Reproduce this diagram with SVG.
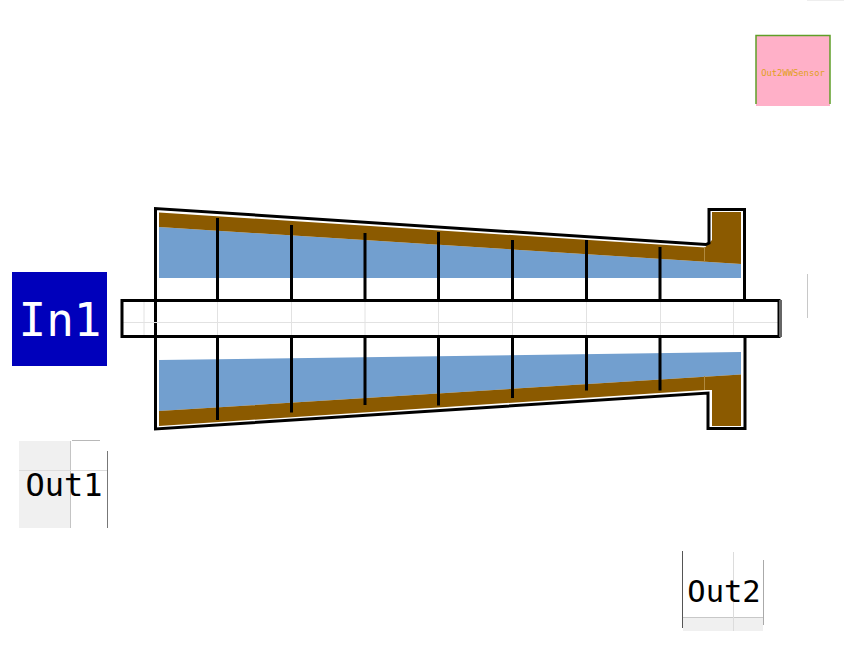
<svg xmlns="http://www.w3.org/2000/svg" width="844" height="645" viewBox="0 0 844 645">
<style>
.brown{fill:#8b5a00}
.blue{fill:#729fcf}
.out{fill:none;stroke:#000;stroke-width:3;stroke-linejoin:miter}
.rod{stroke:#000;stroke-width:3;fill:none}
.grid{stroke:#e2e2e2;stroke-width:1;fill:none}
.lbl{font-family:"DejaVu Sans Mono",monospace;text-anchor:middle}
</style>
<rect width="844" height="645" fill="#fff"/>
<path d="M807 0.500H844" stroke="#eeeeee" fill="none"/>
<g id="Out2WWSensor">
<rect x="756" y="35" width="74" height="71" fill="#ffb0c8"/>
<path d="M756 104V35.500H830V104" fill="none" stroke="#5f9e28" stroke-width="1.500"/>
<text class="lbl" x="793" y="76" font-size="8.800" fill="#dfa020">Out2WWSensor</text>
</g>
<g id="body">
<path class="blue" d="M159 227L741 264V278H159Z"/>
<path class="blue" d="M159 360L741 352V374.500L159 411Z"/>
<path class="brown" d="M159 212.500L705 247.500L712 240V212H741V264L159 227Z"/>
<path class="brown" d="M159 411L741 374.500V426H712V390H705L159 426Z"/>
<path d="M704.500 247V261M704.500 376V390" stroke="#b08a40" fill="none"/>
<path class="out" d="M155.500 337V208.500L706 244.500L709 243V209.500H744.500V300"/>
<path class="out" d="M155.500 337V429L708 393V428.500H745V337"/>
</g>
<g id="shaft">
<path class="grid" d="M144 301V337M217.500 301V337M291.500 301V337M365 301V337M438.500 301V337M512.500 301V337M586.500 301V337M660.500 301V337M733.500 301V337M123 322.500H778"/>
<path class="out" d="M122 300.500H779V336.500H122Z"/>
<path d="M780.500 300V337" stroke="#666" stroke-width="3" fill="none"/>
<path d="M807.500 274V318" stroke="#c8c8c8" fill="none"/>
</g>
<g id="connectors">
<path class="rod" d="M217.500 218V300M291.500 225V300M365 233V300M438.500 232V300M512.500 240V300M586.500 240V300M660 247V300"/>
<path class="rod" d="M217.500 337V420M291.500 337V412.500M365 337V405M438.500 337V405.500M512.500 337V398M586.500 337V390.500M660 337V390.500"/>
</g>
<g id="In1">
<rect x="12" y="272" width="95" height="94" fill="#0000bb"/>
<text class="lbl" x="60" y="336" font-size="46" fill="#fff">In1</text>
</g>
<g id="Out1">
<rect x="19" y="441" width="51" height="87" fill="#f0f0f0"/>
<path d="M70.500 441V528" stroke="#c4c4c4" fill="none"/>
<path d="M19 470.500H107" stroke="#dcdcdc" fill="none"/>
<path d="M72 440.500H100" stroke="#b8b8b8" fill="none"/>
<path d="M107.500 451V528" stroke="#777" fill="none"/>
<text class="lbl" x="64" y="496" font-size="32" fill="#000">Out1</text>
</g>
<g id="Out2">
<rect x="683" y="617" width="80" height="14" fill="#f0f0f0"/>
<path d="M683 617.500H763" stroke="#c8c8c8" fill="none"/>
<path d="M733.500 552V631" stroke="#dcdcdc" fill="none"/>
<path d="M682.500 551V628" stroke="#555" fill="none"/>
<path d="M763.500 560V625" stroke="#aaa" fill="none"/>
<text class="lbl" x="724" y="602" font-size="30.500" fill="#000">Out2</text>
</g>
</svg>
